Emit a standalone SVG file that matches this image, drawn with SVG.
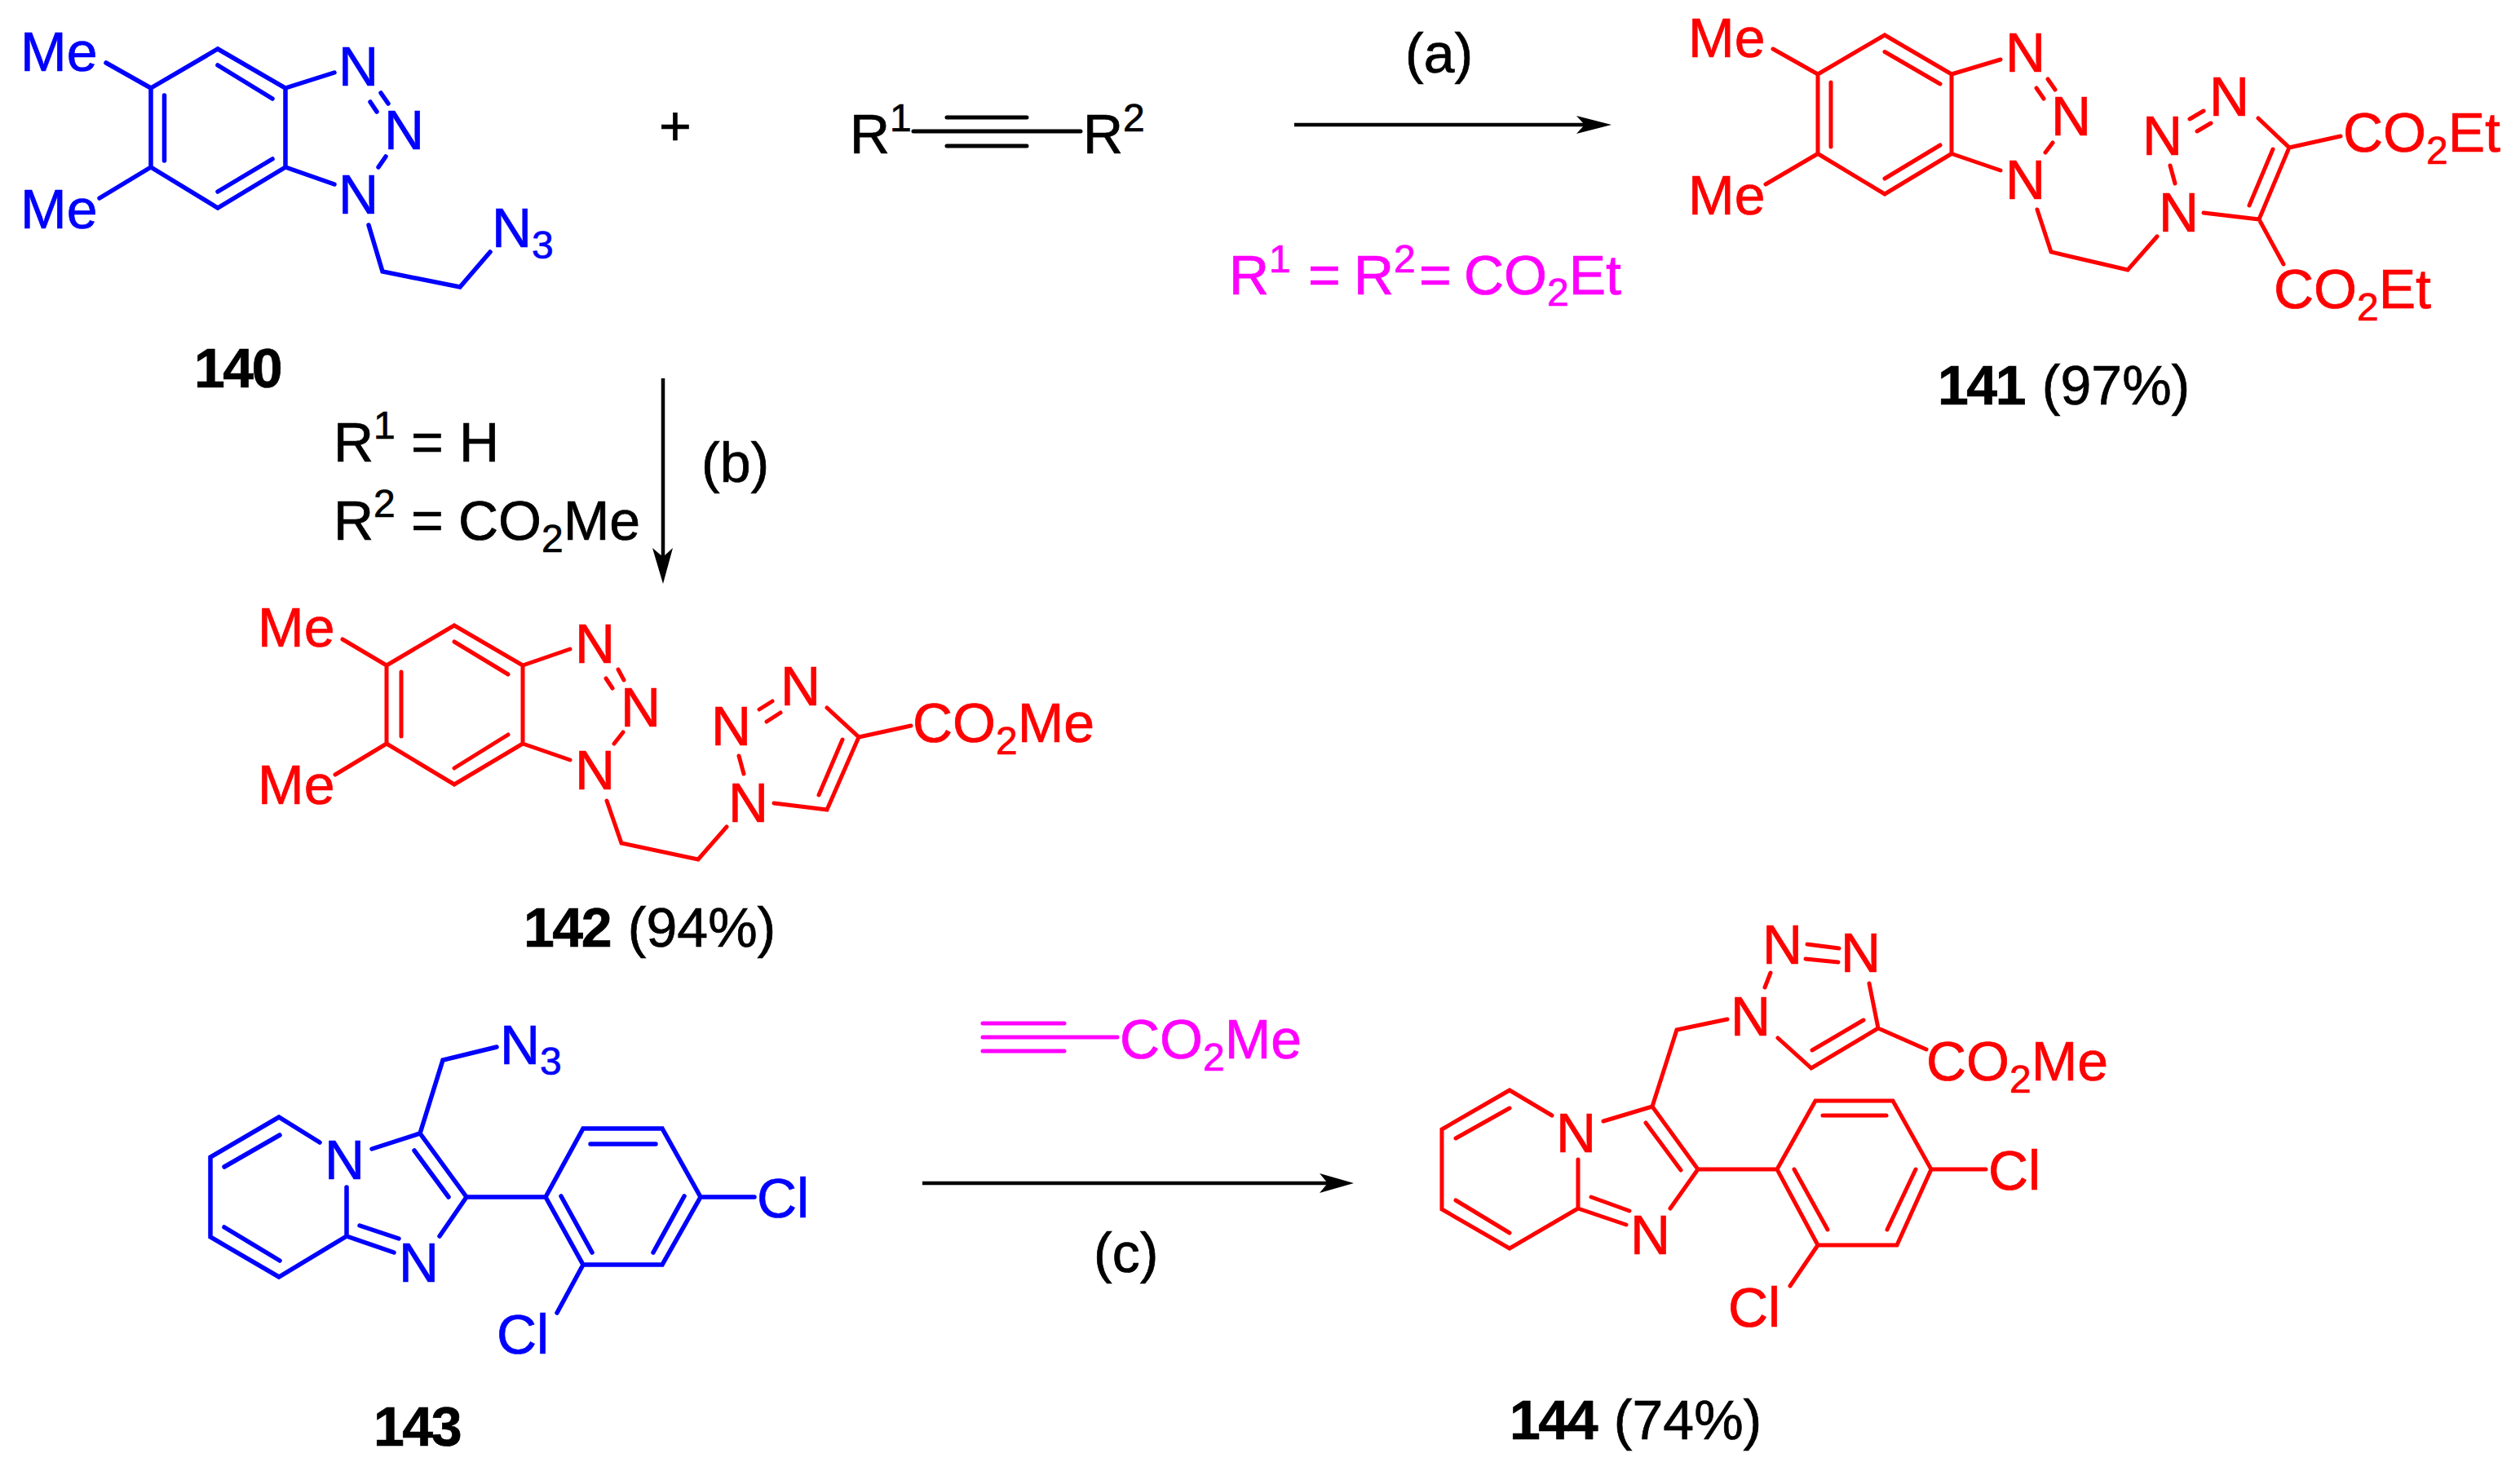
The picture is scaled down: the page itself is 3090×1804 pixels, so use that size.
<svg xmlns="http://www.w3.org/2000/svg" width="3090" height="1804" viewBox="0 0 3090 1804">
<style>
text{font-family:"Liberation Sans",Arial,sans-serif;font-size:68px;stroke-width:.7px}
.k{fill:#000;stroke:#000}.u{fill:#0000ff;stroke:#0000ff}.r{fill:#ff0000;stroke:#ff0000}.m{fill:#ff00ff;stroke:#ff00ff}
.B{font-weight:bold;letter-spacing:-2.500px}
.s{font-size:48px}
path{fill:none;stroke-linecap:round;stroke-linejoin:miter}
.bb{stroke:#0000ff;stroke-width:5.500}
.br{stroke:#ff0000;stroke-width:5}
.bm{stroke:#ff00ff;stroke-width:5}
.bk{stroke:#000;stroke-width:5}
.a{stroke:#000;stroke-width:4.500;stroke-linecap:butt}
.h{fill:#000;stroke:none}
</style>
<rect width="3090" height="1804" fill="#fff"/>
<g id="connectors">
<path class="a" d="M1587 153H1943"/><path class="h" d="M1976 153L1933 142L1943 153L1933 164Z"/>
<path class="a" d="M813 464V683"/><path class="h" d="M813 716L800 672L813 683L825 672Z"/>
<path class="a" d="M1131 1451H1628"/><path class="h" d="M1660 1451L1618 1439L1628 1451L1618 1463Z"/>
</g>
<g id="n140">
<path class="bb" d="M267 60L350 108V205L267 255L185 205V108ZM267 80L334 121M201.500 117V197M267 235L334 195M130 77L185 108M122 243L185 205M350 108L410 89M350 205L410 226M467 114L476 127M454 125L462 137M473 192L464 205M452 276L469 333L564 352L601 309"/>
<text class="u" x="25" y="87">Me</text>
<text class="u" x="25" y="280">Me</text>
<text class="u" x="415" y="105">N</text>
<text class="u" x="471" y="183">N</text>
<text class="u" x="415" y="262">N</text>
<text class="u" x="603" y="303">N<tspan class="s" dy="14">3</tspan></text>
<text class="k B" x="238" y="475">140</text>
</g>
<g id="plus"><text class="k" x="808" y="178">+</text></g>
<g id="alkyne">
<path class="bk" d="M1120 161H1325M1161 144H1259M1161 179H1259"/>
<text class="k" x="1042" y="188">R<tspan class="s" dy="-27">1</tspan></text>
<text class="k" x="1328" y="188">R<tspan class="s" dy="-27">2</tspan></text>
</g>
<g id="label-a"><text class="k" x="1723" y="89">(a)</text></g>
<g id="cond-a"><text class="m" x="1507" y="361">R<tspan class="s" dy="-27">1</tspan><tspan dy="27" x="1604">=</tspan><tspan x="1660">R</tspan><tspan class="s" dy="-27">2</tspan><tspan dy="27" x="1740">=</tspan><tspan x="1795">CO</tspan><tspan class="s" dy="14">2</tspan><tspan dy="-14">Et</tspan></text>
</g>
<g id="n141">
<path class="br" d="M2311 43L2393 91V188.500L2311 238L2229 188.500V91ZM2311 63.500L2379 103M2245 101V180M2311 219L2379 178M2174 60L2229 91M2165 226L2229 188.500M2393 91L2453 73M2393 188.500L2453 209M2511 97L2520 110M2497 108L2506 121M2517 175L2508 187M2498 257L2515 309L2609 331L2645 290M2661 203L2667 225M2702 136L2685 146M2711 151L2694 161M2769 145L2807 181L2770 269L2702 261M2787 183L2758 252M2807 181L2870 167M2770 269L2800 324"/>
<text class="r" x="2070" y="70">Me</text>
<text class="r" x="2070" y="263">Me</text>
<text class="r" x="2459" y="88">N</text>
<text class="r" x="2515" y="166">N</text>
<text class="r" x="2459" y="244">N</text>
<text class="r" x="2647" y="284">N</text>
<text class="r" x="2627" y="190">N</text>
<text class="r" x="2709" y="142">N</text>
<text class="r" x="2873" y="186">CO<tspan class="s" dy="15">2</tspan><tspan dy="-15">Et</tspan></text>
<text class="r" x="2788" y="378">CO<tspan class="s" dy="15">2</tspan><tspan dy="-15">Et</tspan></text>
<text class="k" x="2376" y="496"><tspan class="B">141</tspan><tspan dx="3"> (97%)</tspan></text>
</g>
<g id="cond-b">
<text class="k" x="409" y="566">R<tspan class="s" dy="-28">1</tspan><tspan dy="28" x="504">=</tspan><tspan x="563">H</tspan></text>
<text class="k" x="409" y="662">R<tspan class="s" dy="-28">2</tspan><tspan dy="28" x="504">=</tspan><tspan x="562">CO</tspan><tspan class="s" dy="15">2</tspan><tspan dy="-15">Me</tspan></text>
<text class="k" x="860" y="591">(b)</text>
</g>
<g id="n142">
<path class="br" d="M557 767L641 816V912L557 962L474 912V816ZM557 787L623 827M492 824V903M557 942L623 901M420 784L474 816M411 950L474 912M641 816L699 796M641 912L699 932M758 821L765 834M743 832L751 844M764 898L753 912M744 982L762 1034L856 1054L891 1014M906 927L912 949M947 860L931 870M957 874L940 885M1014 868L1053 904L1014 993L949 985M1033 907L1004 975M1053 904L1117 890"/>
<text class="r" x="316" y="793">Me</text>
<text class="r" x="316" y="986">Me</text>
<text class="r" x="705" y="813">N</text>
<text class="r" x="761" y="891">N</text>
<text class="r" x="705" y="968">N</text>
<text class="r" x="893" y="1008">N</text>
<text class="r" x="872" y="914">N</text>
<text class="r" x="957" y="865">N</text>
<text class="r" x="1119" y="910">CO<tspan class="s" dy="15">2</tspan><tspan dy="-15">Me</tspan></text>
<text class="k" x="642" y="1161"><tspan class="B">142</tspan><tspan dx="3"> (94%)</tspan></text>
</g>
<g id="n143">
<path class="bb" d="M392 1401L342 1370L258 1419V1517L342 1566L425 1516V1456M343 1392L275 1431M275 1505L343 1546M456 1409L515 1390L572 1468L539 1516M508 1411L550 1468M425 1516L483 1536M441 1503L489 1519M515 1390L543 1300L609 1284M572 1468H669M669 1468L715 1384H812L859 1468L812 1551H715ZM724 1403H804M688 1467L726 1536M839 1467L801 1536M859 1468H925M715 1551L683 1610"/>
<text class="u" x="398" y="1446">N</text>
<text class="u" x="489" y="1572">N</text>
<text class="u" x="613" y="1305">N<tspan class="s" dy="13">3</tspan></text>
<text class="u" x="928" y="1493">Cl</text>
<text class="u" x="609" y="1660">Cl</text>
<text class="k B" x="458" y="1773">143</text>
</g>
<g id="reagent-c">
<path class="bm" d="M1205 1272H1370M1205 1255H1305M1205 1289H1305"/>
<text class="m" x="1373" y="1298">CO<tspan class="s" dy="15">2</tspan><tspan dy="-15">Me</tspan></text>
</g>
<g id="label-c"><text class="k" x="1341" y="1560">(c)</text></g>
<g id="n144">
<path class="br" d="M1903 1368L1851 1337L1768 1385V1483L1851 1531L1935 1482V1422M1851 1359L1785 1396M1785 1472L1851 1512M1966 1375L2026 1357L2082 1434L2048 1482M2018 1377L2061 1435M1935 1482L1994 1502M1951 1468L1998 1485M2026 1357L2056 1263L2118 1250M2171 1193L2164 1211M2216 1158L2255 1163M2214 1176L2254 1180M2292 1206L2303 1261L2221 1310L2180 1273M2285 1251L2222 1288M2303 1261L2362 1287M2082 1434H2179M2179 1434L2226 1350H2321L2368 1434L2326 1527H2229ZM2235 1368H2313M2200 1434L2241 1508M2349 1434L2314 1508M2368 1434H2435M2229 1527L2195 1577"/>
<text class="r" x="1908" y="1413">N</text>
<text class="r" x="1999" y="1538">N</text>
<text class="r" x="2122" y="1270">N</text>
<text class="r" x="2161" y="1182">N</text>
<text class="r" x="2257" y="1192">N</text>
<text class="r" x="2362" y="1325">CO<tspan class="s" dy="15">2</tspan><tspan dy="-15">Me</tspan></text>
<text class="r" x="2438" y="1459">Cl</text>
<text class="r" x="2119" y="1627">Cl</text>
<text class="k" x="1851" y="1765"><tspan class="B">144</tspan><tspan dx="3"> (74%)</tspan></text>
</g>
</svg>
